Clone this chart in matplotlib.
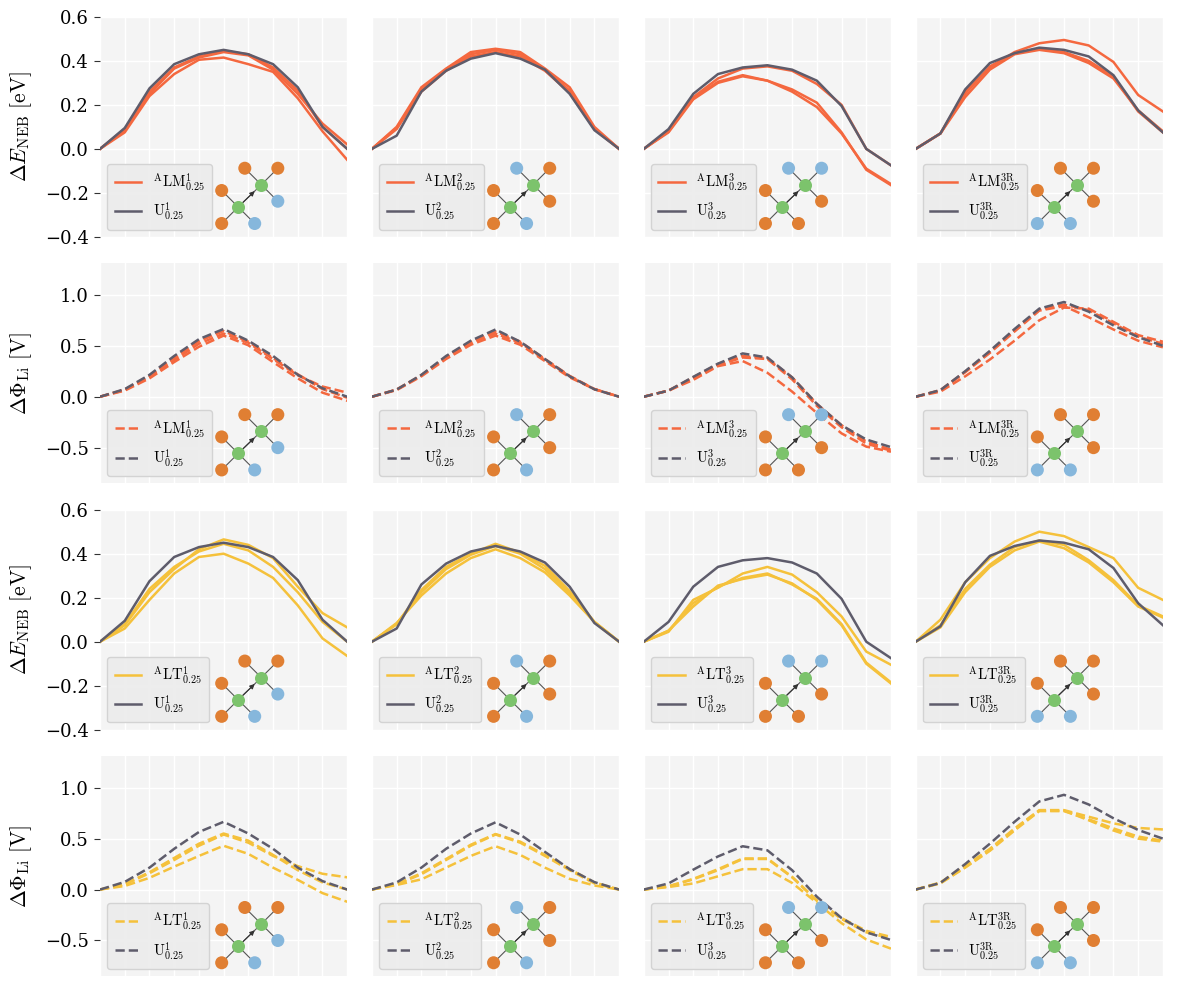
import numpy as np
import matplotlib
matplotlib.use("Agg")
import matplotlib.pyplot as plt

plt.rcParams["font.family"] = ["DejaVu Serif"]
plt.rcParams["mathtext.fontset"] = "cm"
plt.rcParams["axes.unicode_minus"] = True

# image index along the path
x = np.arange(11)
col_tags = ["1", "2", "3", "3R"]

# --- U reference curves (energy and potential) ---
u_E_1 = [0, 0.095, 0.275, 0.385, 0.43, 0.45, 0.43, 0.385, 0.28, 0.10, 0.0]
u_E_2 = [0, 0.06, 0.26, 0.355, 0.41, 0.435, 0.41, 0.36, 0.25, 0.085, 0.0]
u_E_3 = [0, 0.09, 0.25, 0.34, 0.37, 0.38, 0.36, 0.31, 0.195, 0.0, -0.075]
u_E_3R = [0, 0.07, 0.27, 0.39, 0.435, 0.46, 0.45, 0.42, 0.335, 0.175, 0.075]

u_P_1 = [0, 0.075, 0.215, 0.40, 0.565, 0.665, 0.55, 0.40, 0.215, 0.083, 0.0]
u_P_2 = [0, 0.07, 0.215, 0.40, 0.55, 0.66, 0.54, 0.37, 0.20, 0.073, 0.0]
u_P_3 = [0, 0.06, 0.195, 0.325, 0.425, 0.385, 0.19, -0.07, -0.28, -0.42, -0.495]
u_P_3R = [0, 0.065, 0.25, 0.45, 0.665, 0.865, 0.93, 0.835, 0.70, 0.585, 0.50]

# --- LM curves ---
lm_E_1 = [[0, 0.075, 0.24, 0.34, 0.405, 0.415, 0.385, 0.35, 0.23, 0.08, -0.05],
          [0, 0.085, 0.25, 0.365, 0.415, 0.44, 0.425, 0.36, 0.25, 0.115, 0.02],
          [0, 0.09, 0.26, 0.37, 0.42, 0.445, 0.43, 0.37, 0.265, 0.10, 0.0]]
lm_E_2 = [[0, 0.10, 0.28, 0.365, 0.44, 0.455, 0.44, 0.365, 0.28, 0.10, 0],
          [0, 0.095, 0.27, 0.36, 0.43, 0.45, 0.43, 0.36, 0.265, 0.09, 0],
          [0, 0.09, 0.26, 0.355, 0.42, 0.44, 0.42, 0.355, 0.255, 0.09, 0]]
lm_E_3 = [[0, 0.08, 0.235, 0.32, 0.365, 0.375, 0.355, 0.295, 0.20, 0.0, -0.075],
          [0, 0.075, 0.225, 0.30, 0.33, 0.31, 0.27, 0.21, 0.075, -0.095, -0.165],
          [0, 0.08, 0.23, 0.305, 0.335, 0.31, 0.26, 0.19, 0.07, -0.09, -0.16]]
lm_E_3R = [[0, 0.07, 0.26, 0.37, 0.44, 0.48, 0.495, 0.47, 0.395, 0.245, 0.17],
           [0, 0.07, 0.235, 0.36, 0.43, 0.45, 0.435, 0.39, 0.32, 0.175, 0.08],
           [0, 0.07, 0.25, 0.375, 0.435, 0.455, 0.44, 0.40, 0.33, 0.17, 0.075]]

lm_P_1 = [[0, 0.06, 0.18, 0.34, 0.49, 0.60, 0.505, 0.34, 0.18, 0.04, -0.04],
          [0, 0.065, 0.195, 0.36, 0.52, 0.62, 0.53, 0.37, 0.21, 0.10, 0.04],
          [0, 0.07, 0.205, 0.38, 0.545, 0.645, 0.54, 0.38, 0.22, 0.075, -0.01]]
lm_P_2 = [[0, 0.065, 0.20, 0.37, 0.51, 0.60, 0.51, 0.35, 0.19, 0.075, 0],
          [0, 0.07, 0.21, 0.385, 0.53, 0.62, 0.53, 0.36, 0.20, 0.075, 0],
          [0, 0.07, 0.21, 0.39, 0.54, 0.64, 0.54, 0.37, 0.205, 0.075, 0]]
lm_P_3 = [[0, 0.06, 0.165, 0.30, 0.35, 0.235, 0.05, -0.16, -0.36, -0.49, -0.54],
          [0, 0.06, 0.19, 0.32, 0.40, 0.375, 0.19, -0.07, -0.28, -0.44, -0.52],
          [0, 0.06, 0.18, 0.31, 0.385, 0.37, 0.17, -0.09, -0.30, -0.46, -0.53]]
lm_P_3R = [[0, 0.05, 0.20, 0.365, 0.55, 0.75, 0.875, 0.865, 0.735, 0.605, 0.54],
           [0, 0.065, 0.245, 0.44, 0.655, 0.855, 0.905, 0.85, 0.72, 0.59, 0.52],
           [0, 0.06, 0.24, 0.43, 0.64, 0.845, 0.89, 0.78, 0.66, 0.55, 0.485]]

# --- LT curves ---
lt_E_1 = [[0, 0.06, 0.19, 0.31, 0.385, 0.40, 0.355, 0.29, 0.165, 0.015, -0.065],
          [0, 0.075, 0.225, 0.33, 0.42, 0.465, 0.44, 0.38, 0.25, 0.13, 0.065],
          [0, 0.08, 0.24, 0.34, 0.41, 0.445, 0.415, 0.34, 0.225, 0.09, 0.0]]
lt_E_2 = [[0, 0.085, 0.21, 0.31, 0.38, 0.42, 0.38, 0.315, 0.21, 0.09, 0],
          [0, 0.08, 0.225, 0.33, 0.395, 0.435, 0.40, 0.33, 0.22, 0.09, 0],
          [0, 0.08, 0.235, 0.34, 0.40, 0.445, 0.405, 0.345, 0.23, 0.09, 0]]
lt_E_3 = [[0, 0.045, 0.19, 0.245, 0.31, 0.34, 0.305, 0.225, 0.115, -0.045, -0.105],
          [0, 0.05, 0.16, 0.255, 0.285, 0.305, 0.265, 0.19, 0.075, -0.10, -0.19],
          [0, 0.05, 0.175, 0.25, 0.29, 0.31, 0.26, 0.195, 0.08, -0.095, -0.185]]
lt_E_3R = [[0, 0.10, 0.27, 0.38, 0.455, 0.50, 0.48, 0.43, 0.38, 0.245, 0.19],
           [0, 0.065, 0.225, 0.34, 0.415, 0.455, 0.425, 0.36, 0.27, 0.16, 0.11],
           [0, 0.075, 0.24, 0.35, 0.43, 0.46, 0.44, 0.37, 0.28, 0.165, 0.115]]

lt_P_1 = [[0, 0.035, 0.115, 0.225, 0.33, 0.43, 0.35, 0.215, 0.095, -0.035, -0.12],
          [0, 0.05, 0.16, 0.29, 0.43, 0.54, 0.46, 0.33, 0.23, 0.155, 0.12],
          [0, 0.055, 0.17, 0.31, 0.45, 0.55, 0.48, 0.34, 0.19, 0.07, 0.0]]
lt_P_2 = [[0, 0.045, 0.10, 0.215, 0.33, 0.425, 0.34, 0.215, 0.105, 0.04, 0],
          [0, 0.05, 0.15, 0.29, 0.43, 0.54, 0.46, 0.33, 0.19, 0.06, 0],
          [0, 0.055, 0.16, 0.30, 0.44, 0.545, 0.47, 0.34, 0.20, 0.07, 0]]
lt_P_3 = [[0, 0.033, 0.105, 0.20, 0.305, 0.305, 0.125, -0.105, -0.28, -0.405, -0.465],
          [0, 0.025, 0.06, 0.13, 0.20, 0.20, 0.065, -0.13, -0.33, -0.49, -0.58],
          [0, 0.03, 0.10, 0.19, 0.30, 0.30, 0.12, -0.11, -0.29, -0.42, -0.48]]
lt_P_3R = [[0, 0.07, 0.23, 0.40, 0.60, 0.78, 0.78, 0.715, 0.65, 0.605, 0.59],
           [0, 0.065, 0.22, 0.39, 0.59, 0.775, 0.775, 0.68, 0.58, 0.50, 0.47],
           [0, 0.06, 0.215, 0.38, 0.58, 0.77, 0.77, 0.69, 0.60, 0.52, 0.48]]

u_E = [u_E_1, u_E_2, u_E_3, u_E_3R]
u_P = [u_P_1, u_P_2, u_P_3, u_P_3R]
rows = [
    ("LM", [lm_E_1, lm_E_2, lm_E_3, lm_E_3R], u_E, "-"),
    ("LM", [lm_P_1, lm_P_2, lm_P_3, lm_P_3R], u_P, "--"),
    ("LT", [lt_E_1, lt_E_2, lt_E_3, lt_E_3R], u_E, "-"),
    ("LT", [lt_P_1, lt_P_2, lt_P_3, lt_P_3R], u_P, "--"),
]

# inset species colours: (lower UL, lower LL, lower LR, upper UL, upper UR, upper LR)
OR, BL = "#e07f33", "#86b7dc"
inset_cols = [
    [OR, OR, BL, OR, OR, BL],
    [OR, OR, BL, BL, OR, OR],
    [OR, OR, OR, BL, BL, OR],
    [OR, BL, BL, OR, OR, OR],
]

c_lm = "#f4683f"
c_lt = "#f5c13b"
c_u = "#5e5c6b"
bg = "#f4f4f4"


def draw_inset(ax, cols):
    ins = ax.inset_axes([0.42, 0.0, 0.36, 0.36])
    ins.set_xlim(-2.08, 3.31)
    ins.set_ylim(-1.81, 2.99)
    ins.axis("off")
    g0 = (0.0, 0.0)
    g1 = (1.4, 1.35)
    nb0 = [(-1, 1), (-1, -1), (1, -1)]
    nb1 = [(g1[0] - 1, g1[1] + 1), (g1[0] + 1, g1[1] + 1), (g1[0] + 1, g1[1] - 1)]
    for n in nb0:
        ins.plot([g0[0], n[0]], [g0[1], n[1]], color="#555555", lw=0.8, zorder=1)
    for n in nb1:
        ins.plot([g1[0], n[0]], [g1[1], n[1]], color="#555555", lw=0.8, zorder=1)
    ins.plot([g0[0], g1[0]], [g0[1], g1[1]], color="#555555", lw=0.8, zorder=1)
    ins.annotate("", xy=(1.0, 0.965), xytext=(0.3, 0.29),
                 arrowprops=dict(arrowstyle="-|>", color="#333333", lw=0.8,
                                 mutation_scale=7, shrinkA=0, shrinkB=0), zorder=2)
    pts = nb0 + nb1
    ins.scatter([p[0] for p in pts], [p[1] for p in pts], s=88, c=cols,
                linewidths=0, zorder=3)
    ins.scatter([g0[0], g1[0]], [g0[1], g1[1]], s=88, c="#7cc36c",
                linewidths=0, zorder=3)


fig, axes = plt.subplots(4, 4, figsize=(11.77, 9.92), dpi=100)
fig.subplots_adjust(left=0.085, right=0.988, top=0.983, bottom=0.016,
                    wspace=0.1, hspace=0.12)

for r, (kind, curves, urefs, ls) in enumerate(rows):
    color = c_lm if kind == "LM" else c_lt
    for c in range(4):
        ax = axes[r, c]
        ax.set_facecolor(bg)
        for s in ax.spines.values():
            s.set_visible(False)
        tag = col_tags[c]
        for k, yv in enumerate(curves[c]):
            lab = r"$^{\rm A}{\rm %s}^{\rm %s}_{0.25}$" % (kind, tag) if k == 0 else None
            ax.plot(x, yv, ls=ls, color=color, lw=1.8, label=lab)
        ax.plot(x, urefs[c], ls=ls, color=c_u, lw=1.8,
                label=r"${\rm U}^{\rm %s}_{0.25}$" % tag)
        ax.set_xlim(0, 10)
        ax.set_xticks(x)
        if r % 2 == 0:
            ax.set_ylim(-0.4, 0.6)
            ax.set_yticks([-0.4, -0.2, 0.0, 0.2, 0.4, 0.6])
        else:
            ax.set_ylim(-0.85, 1.31)
            ax.set_yticks([-0.5, 0.0, 0.5, 1.0])
        ax.grid(True, color="white", lw=1.0)
        ax.set_axisbelow(True)
        ax.tick_params(axis="x", bottom=False, labelbottom=False)
        if c == 0:
            ax.tick_params(axis="y", length=4, width=0.8, color="#333333",
                           labelsize=13, pad=4)
            if r % 2 == 0:
                ax.set_ylabel(r"$\Delta E_{\rm NEB}\ [{\rm eV}]$", fontsize=15.5,
                              labelpad=8)
            else:
                ax.set_ylabel(r"$\Delta \Phi_{\rm Li}\ [{\rm V}]$", fontsize=15.5,
                              labelpad=8)
        else:
            ax.tick_params(axis="y", left=False, labelleft=False)
        leg = ax.legend(loc="lower left", fontsize=10.5, frameon=True,
                        facecolor="#ececec", edgecolor="#d0d0d0", framealpha=0.9,
                        labelspacing=0.5, borderpad=0.5, handlelength=1.8)
        draw_inset(ax, inset_cols[c])

fig.align_ylabels(axes[:, 0])
fig.savefig("out.png", dpi=100)
